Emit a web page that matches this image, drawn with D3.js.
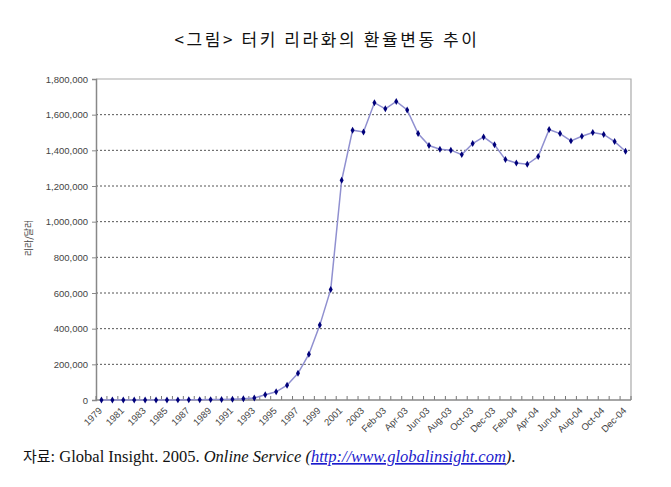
<!DOCTYPE html>
<html>
<head>
<meta charset="utf-8">
<script src="https://cdn.jsdelivr.net/npm/d3@7"></script>
<style>
html,body{margin:0;padding:0;background:#fff;}
svg{display:block;}
</style>
</head>
<body>
<svg id="chart" width="671" height="487"></svg>
<script>
const categories = [
  "1979","1980","1981","1982","1983","1984","1985","1986","1987","1988",
  "1989","1990","1991","1992","1993","1994","1995","1996","1997","1998",
  "1999","2000","2001","2002","2003",
  "Jan-03","Feb-03","Mar-03","Apr-03","May-03","Jun-03","Jul-03","Aug-03","Sep-03","Oct-03","Nov-03","Dec-03",
  "Jan-04","Feb-04","Mar-04","Apr-04","May-04","Jun-04","Jul-04","Aug-04","Sep-04","Oct-04","Nov-04","Dec-04"
];
const rates = [
  31, 76, 111, 163, 225, 367, 522, 675, 857, 1422,
  2122, 2609, 4172, 6872, 10985, 29600, 45800, 83000, 150000, 257000,
  420000, 620000, 1232000, 1513000, 1503000,
  1667000, 1633000, 1674000, 1626000, 1494000, 1427000, 1406000, 1401000, 1376000, 1438000, 1475000, 1431000,
  1348000, 1329000, 1322000, 1365000, 1517000, 1494000, 1453000, 1479000, 1500000, 1489000, 1449000, 1395000
];
const tickLabels = [
  "1979","1981","1983","1985","1987","1989","1991","1993","1995","1997","1999","2001","2003",
  "Feb-03","Apr-03","Jun-03","Aug-03","Oct-03","Dec-03","Feb-04","Apr-04","Jun-04","Aug-04","Oct-04","Dec-04"
];
const yTicks = [0,200000,400000,600000,800000,1000000,1200000,1400000,1600000,1800000];
const titleText = "<그림> 터키 리라화의 환율변동 추이";
const yTitle = "리라/달러";

const svg = d3.select("#chart");
const L = 96, R = 631, T = 79, B = 400;

const x = d3.scaleBand().domain(categories).range([L, R]).paddingInner(0).paddingOuter(0);
const y = d3.scaleLinear().domain([0, 1800000]).range([B, T]);

// title
svg.append("text").attr("x", 327).attr("y", 46).attr("text-anchor", "middle")
  .attr("font-family", "'Noto Sans CJK KR','Noto Sans',sans-serif").attr("font-size", 17)
  .attr("letter-spacing", 2.6).attr("fill", "#111").text(titleText);

// gridlines
svg.append("g").selectAll("line").data(yTicks.filter(d => d > 0 && d < 1800000)).join("line")
  .attr("x1", L).attr("x2", R).attr("y1", d => y(d)).attr("y2", d => y(d))
  .attr("stroke", "#555").attr("stroke-width", 1).attr("stroke-dasharray", "2,2");

// frame top/right
svg.append("path").attr("d", `M${L},${T}H${R}V${B}`).attr("fill", "none")
  .attr("stroke", "#aaa").attr("stroke-width", 1.2);

// y axis
const yAxis = d3.axisLeft(y).tickValues(yTicks).tickSize(4).tickPadding(4)
  .tickFormat(d3.format(","));
const gy = svg.append("g").attr("transform", `translate(${L},0)`).call(yAxis);
gy.select(".domain").attr("stroke", "#888").attr("stroke-width", 1.5);
gy.selectAll(".tick line").attr("stroke", "#888");
gy.selectAll("text").attr("font-family", "Arial,'Liberation Sans',sans-serif")
  .attr("font-size", 9.5).attr("fill", "#444");

// x axis: ticks at category boundaries, pointing up
const boundaries = d3.range(categories.length + 1).map(i => L + i * x.bandwidth());
svg.append("g").selectAll("line").data(boundaries).join("line")
  .attr("x1", d => d).attr("x2", d => d).attr("y1", B).attr("y2", B - 4)
  .attr("stroke", "#777").attr("stroke-width", 1);
svg.append("line").attr("x1", L).attr("x2", R).attr("y1", B).attr("y2", B)
  .attr("stroke", "#888").attr("stroke-width", 1.5);

// x labels
const labelCats = categories.filter((c, i) => i % 2 === 0);
svg.append("g").selectAll("text").data(labelCats).join("text")
  .attr("transform", (d, i) => `translate(${x(d) + x.bandwidth() / 2 - 1},${B + 9}) rotate(-45)`)
  .attr("text-anchor", "end").attr("dy", "0.35em")
  .attr("font-family", "Arial,'Liberation Sans',sans-serif").attr("font-size", 9.5).attr("fill", "#444")
  .text((d, i) => tickLabels[i]);

// y title
svg.append("text").attr("transform", `translate(32,238) rotate(-90)`).attr("text-anchor", "middle")
  .attr("font-family", "'Noto Sans CJK KR',sans-serif").attr("font-size", 9).attr("fill", "#444")
  .text(yTitle);

// line
const pts = categories.map((c, i) => [x(c) + x.bandwidth() / 2, y(rates[i])]);
svg.append("path").attr("d", d3.line()(pts)).attr("fill", "none")
  .attr("stroke", "#9090d0").attr("stroke-width", 1.5);

// markers (diamonds)
svg.append("g").selectAll("path").data(pts).join("path")
  .attr("d", d3.symbol().type(d3.symbolDiamond).size(14))
  .attr("transform", d => `translate(${d[0]},${d[1]})`)
  .attr("fill", "#00007a");

// caption
const cap = svg.append("text").attr("x", 23).attr("y", 462)
  .attr("font-family", "'Liberation Serif','Noto Sans CJK KR',serif").attr("font-size", 16.5).attr("fill", "#111");
cap.append("tspan").attr("font-family", "'Noto Sans CJK KR',sans-serif").attr("font-size", 15).text("자료");
cap.append("tspan").text(": Global Insight. 2005. ");
cap.append("tspan").attr("font-style", "italic").text("Online Service (");
cap.append("tspan").attr("font-style", "italic").attr("fill", "#1a1acc").attr("text-decoration", "underline")
  .text("http://www.globalinsight.com");
cap.append("tspan").attr("font-style", "italic").text(")");
cap.append("tspan").text(".");
</script>
</body>
</html>
